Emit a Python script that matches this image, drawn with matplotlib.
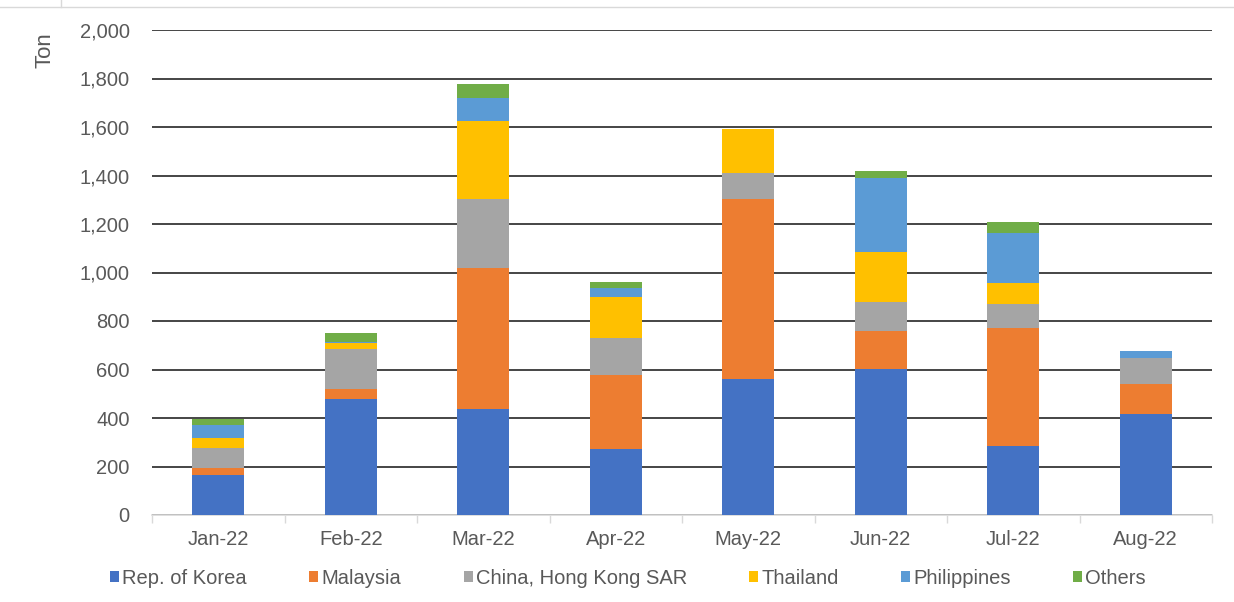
import matplotlib.pyplot as plt
from matplotlib.lines import Line2D
import numpy as np

# monthly exports by destination (ton)
months = ['Jan-22', 'Feb-22', 'Mar-22', 'Apr-22', 'May-22', 'Jun-22', 'Jul-22', 'Aug-22']
korea = [165, 477, 436, 271, 560, 601, 285, 415]
malaysia = [30, 41, 584, 306, 742, 159, 487, 124]
hongkong = [80, 167, 282, 152, 107, 117, 98, 107]
thailand = [41, 25, 324, 171, 181, 209, 85, 0]
philippines = [55, 5, 92, 35, 0, 302, 207, 32]
others = [25, 35, 58, 27, 0, 32, 45, 0]

series = [
    ('Rep. of Korea', korea, '#4472C4'),
    ('Malaysia', malaysia, '#ED7D31'),
    ('China, Hong Kong SAR', hongkong, '#A5A5A5'),
    ('Thailand', thailand, '#FFC000'),
    ('Philippines', philippines, '#5B9BD5'),
    ('Others', others, '#70AD47'),
]

plt.rcParams['font.family'] = ['Liberation Sans', 'DejaVu Sans']

fig = plt.figure(figsize=(12.34, 6.02), dpi=100)
ax = fig.add_axes([152 / 1234, 1 - 515 / 602, (1212 - 152) / 1234, 485 / 602])

x = np.arange(len(months))
bottom = np.zeros(len(months))
for name, vals, col in series:
    ax.bar(x, vals, width=0.39, bottom=bottom, color=col, label=name, zorder=3)
    bottom += np.array(vals)

ax.set_xlim(-0.5, len(months) - 0.5)
ax.set_ylim(0, 2000)
ax.set_yticks(np.arange(0, 2001, 200))
ax.set_yticklabels([f'{v:,}' for v in range(0, 2001, 200)])
ax.yaxis.grid(True, color='#262626', linewidth=1.2, zorder=0)
ax.set_axisbelow(True)

ax.set_xticks(x)
ax.set_xticklabels(months)
ax.set_xticks(np.arange(-0.5, len(months)), minor=True)
ax.tick_params(axis='x', which='major', length=0, pad=11, labelsize=14.5, labelcolor='#595959')
ax.tick_params(axis='x', which='minor', length=6, color='#D9D9D9', width=1)
ax.tick_params(axis='y', length=0, pad=16, labelsize=14.5, labelcolor='#595959')

for s in ['top', 'right', 'left']:
    ax.spines[s].set_visible(False)
ax.spines['bottom'].set_color('#D9D9D9')
ax.spines['bottom'].set_linewidth(1.2)

fig.text(45 / 1234, 1 - 50 / 602, 'Ton', rotation=90, ha='center', va='center',
         fontsize=16, color='#595959')

fig.legend(loc='center', bbox_to_anchor=(628 / 1234, 1 - 578 / 602), ncol=6,
           frameon=False, fontsize=14.5, handlelength=0.45, handleheight=0.45,
           handletextpad=0.15, columnspacing=3.1, labelcolor='#595959')

# thin screenshot frame lines
fig.add_artist(Line2D([0, 1], [1 - 7 / 602, 1 - 7 / 602], color='#D9D9D9', linewidth=1))
fig.add_artist(Line2D([61 / 1234, 61 / 1234], [1 - 7 / 602, 1], color='#D9D9D9', linewidth=1))

plt.savefig('out.png', dpi=100)
